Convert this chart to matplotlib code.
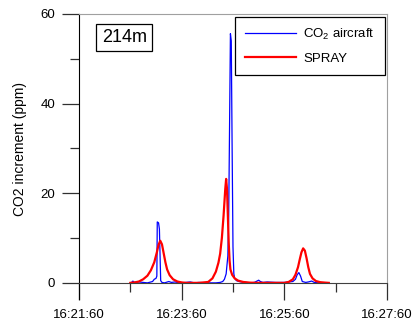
import matplotlib.pyplot as plt
from matplotlib.ticker import FixedLocator

plt.rcParams['font.family'] = ['Liberation Sans', 'DejaVu Sans']
plt.rcParams['mathtext.fontset'] = 'custom'
plt.rcParams['mathtext.rm'] = 'Liberation Sans'

# time in seconds after 16:22:00
spray_t = [60, 65, 70, 75, 80, 84, 88, 91, 93, 95, 97, 99, 101, 103, 106, 110, 115, 120, 125,
           140, 151, 156, 160, 163, 165, 167, 169, 171, 172, 173, 174, 175, 176, 177, 179, 182,
           186, 192, 200, 210, 240, 245, 250, 253, 256, 258, 260, 262, 264, 266, 268, 270, 273,
           277, 282, 288, 292]
spray_v = [0, 0.1, 0.3, 0.8, 1.6, 2.8, 4.6, 6.8, 8.5, 9.4, 8.6, 6.6, 4.6, 3.0, 1.7, 0.8, 0.3, 0.1, 0,
           0, 0.2, 1.0, 2.5, 4.5, 6.5, 10, 15, 21, 23.2, 21, 15, 9, 5, 3, 1.8, 1.0,
           0.5, 0.2, 0.05, 0, 0, 0.2, 0.8, 1.8, 3.5, 5.2, 6.8, 7.7, 7.2, 5.5, 3.5, 2.0, 1.0,
           0.4, 0.15, 0.05, 0]

air_t = [61, 63, 65, 70, 75, 80, 86, 88, 90, 91, 91.5, 93, 94, 95.5, 97, 100, 105, 108, 112,
         118, 125, 130, 135, 140, 150, 160, 165, 168, 170, 172, 174, 175, 176, 177, 178, 179,
         180, 181, 182, 184, 187, 190, 195, 200, 205, 208, 210, 212, 215, 220, 230, 240, 245,
         250, 253, 255, 257, 259, 261, 265, 268, 272, 275, 280]
air_v = [0, 0.4, 0.1, 0.2, 0.1, 0, 0.3, 0.8, 1.0, 1.5, 13.6, 13.4, 12.0, 0.5, 0.1, 0, 0.3, 0.1, 0.2,
         0, 0.1, 0.2, 0, 0.1, 0, 0, 0.1, 0.3, 0.8, 2, 6, 15, 35, 55.6, 54, 30,
         8, 2, 1.0, 0.5, 0.3, 0.2, 0.1, 0, 0.1, 0.4, 0.6, 0.3, 0.1, 0.2, 0.1, 0.1, 0.2,
         0.3, 0.8, 1.8, 2.3, 1.5, 0.3, 0.1, 0.2, 0.4, 0.1, 0]

major_x = [0, 120, 240, 360]
major_labels = ['16:21:60', '16:23:60', '16:25:60', '16:27:60']
minor_x = [60, 180, 300]

fig = plt.figure(figsize=(4.19, 3.23), dpi=100)
ax = fig.add_axes([0.1885, 0.0743, 0.7351, 0.8824])

ax.plot(air_t, air_v, color='#0000ff', lw=0.9, label='CO$_\\mathrm{2}$ aircraft')
ax.plot(spray_t, spray_v, color='#ff0000', lw=1.6, label='SPRAY')

ax.set_xlim(0, 360)
ax.set_ylim(-3.6, 60)

ax.spines['bottom'].set_position(('data', 0))
ax.spines['bottom'].set_color('#404040')
ax.spines['left'].set_color('black')
ax.spines['top'].set_color('#a0a0a0')
ax.spines['right'].set_color('#a0a0a0')
ax.spines['right'].set_bounds(0, 60)

ax.set_xticks(major_x)
ax.set_xticklabels(major_labels)
ax.xaxis.set_minor_locator(FixedLocator(minor_x))
ax.set_yticks([0, 20, 40, 60])
ax.yaxis.set_minor_locator(FixedLocator([10, 30, 50]))

ax.tick_params(which='major', direction='out', length=12, width=0.9, labelsize=9.5, color='#303030')
ax.tick_params(which='minor', direction='out', length=6.5, width=0.9, color='#303030')
ax.tick_params(axis='x', which='major', pad=7)
ax.tick_params(axis='y', which='major', pad=5)

ax.set_ylabel('CO2 increment (ppm)', fontsize=10)
ax.yaxis.set_label_coords(-0.17, 0.528)

ax.text(0.1466, 0.9175, '214m', transform=ax.transAxes, fontsize=13, ha='center', va='center',
        bbox=dict(boxstyle='square,pad=0.3', facecolor='white', edgecolor='black', lw=0.9))

leg = ax.legend(loc='upper right', bbox_to_anchor=(0.9935, 0.9895), borderaxespad=0,
                fontsize=9.5, handlelength=3.8, handletextpad=0.6, borderpad=0.75,
                labelspacing=0.8, fancybox=False, framealpha=1, edgecolor='black')
leg.get_frame().set_linewidth(0.9)

fig.savefig('out.png', dpi=100)
